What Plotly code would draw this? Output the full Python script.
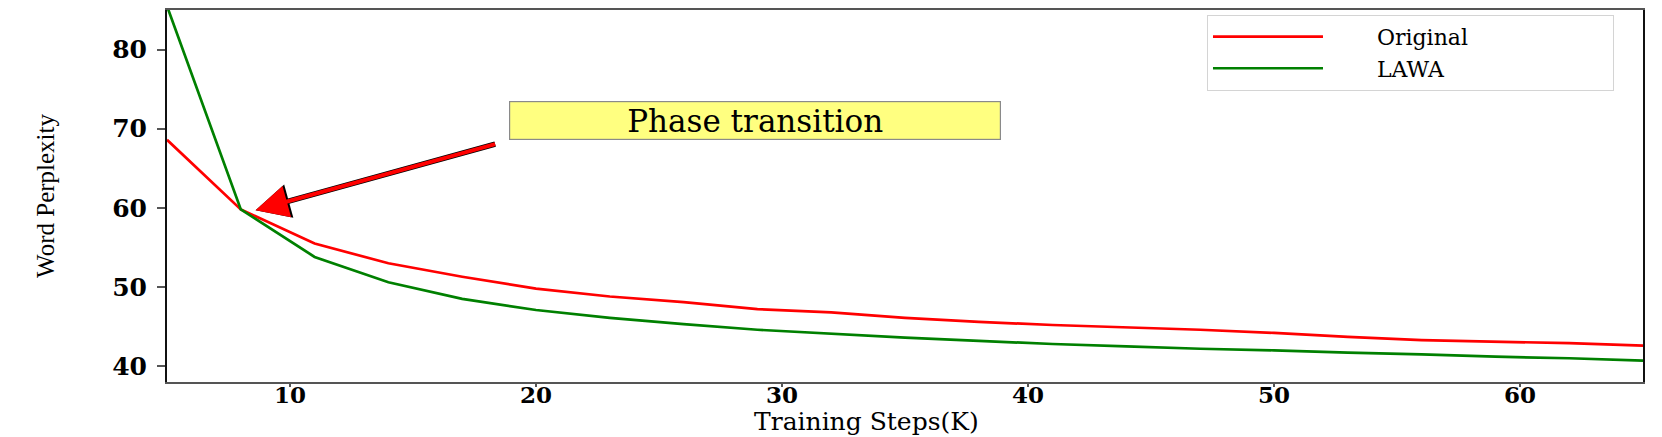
import plotly.graph_objects as go

steps_k = [5, 8, 11, 14, 17, 20, 23, 26, 29, 32, 35, 38, 41, 44, 47, 50, 53, 56, 59, 62, 65]
original = [68.6, 59.8, 55.5, 53.0, 51.3, 49.8, 48.8, 48.1, 47.2, 46.8, 46.1, 45.6, 45.2,
            44.9, 44.6, 44.2, 43.7, 43.3, 43.1, 42.9, 42.6]
lawa = [85.5, 59.8, 53.8, 50.6, 48.5, 47.1, 46.1, 45.3, 44.6, 44.1, 43.6, 43.2, 42.8,
        42.5, 42.2, 42.0, 41.7, 41.5, 41.2, 41.0, 40.7]
x_ticks = [10, 20, 30, 40, 50, 60]
y_ticks = [40, 50, 60, 70, 80]

SERIF = "DejaVu Serif"
LEAD = "\u00a0" * 7
TRAIL_ORIG = "\u00a0" * 20
TRAIL_LAWA = "\u00a0" * 20

fig = go.Figure()
fig.add_trace(go.Scatter(x=steps_k, y=original, mode="lines", name=LEAD + "Original" + TRAIL_ORIG,
                         line=dict(color="#ff0000", width=2.7)))
fig.add_trace(go.Scatter(x=steps_k, y=lawa, mode="lines", name=LEAD + "LAWA" + TRAIL_LAWA,
                         line=dict(color="#008000", width=2.7)))

# the page body has an 8px margin; margins below compensate for it
fig.update_layout(
    width=1662, height=437,
    margin=dict(l=159, r=27, t=0, b=63),
    paper_bgcolor="white", plot_bgcolor="white",
    font=dict(family=SERIF, color="black"),
    showlegend=True,
    legend=dict(x=0.7046, y=0.987, xanchor="left", yanchor="top",
                bgcolor="white", bordercolor="#d4d4d4", borderwidth=1,
                font=dict(family=SERIF, size=22, color="black"),
                itemwidth=110, tracegroupgap=0),
    xaxis=dict(range=[5, 65], tickvals=x_ticks, ticks="outside", ticklen=3,
               tickcolor="#555", tickwidth=1.5, ticklabelstandoff=-11,
               showline=True, linecolor="#555", linewidth=1.5, mirror=True,
               showgrid=False, zeroline=False,
               tickfont=dict(family=SERIF, size=23, color="black", weight="bold")),
    yaxis=dict(range=[38, 85], tickvals=y_ticks, ticks="outside", ticklen=8,
               tickcolor="#555", tickwidth=1.5, ticklabelstandoff=5,
               showline=True, linecolor="#111", linewidth=2, mirror=True,
               showgrid=False, zeroline=False,
               tickfont=dict(family=SERIF, size=25, color="black", weight="bold")),
)

# axis titles
fig.add_annotation(xref="paper", yref="paper", x=0.474, y=-0.105,
                   text="Training Steps(K)", showarrow=False,
                   xanchor="center", yanchor="middle",
                   font=dict(family=SERIF, size=25, color="black"))
fig.add_annotation(xref="paper", yref="paper", x=-0.0827, y=0.5,
                   text="Word Perplexity", showarrow=False, textangle=-90,
                   xanchor="center", yanchor="middle",
                   font=dict(family="Liberation Serif", size=25, color="black"))

# arrow: black outline underneath, red on top
for col, w, s in [("black", 5.6, 1.23), ("#ff0000", 4, 1.62)]:
    fig.add_annotation(x=8.6, y=59.7, xref="x", yref="y",
                       ax=18.4, ay=68.1, axref="x", ayref="y",
                       text="", showarrow=True, arrowhead=2,
                       arrowsize=s, arrowwidth=w, arrowcolor=col)

# callout box
fig.add_annotation(x=28.9, y=71.0, xref="x", yref="y",
                   text="Phase transition", showarrow=False,
                   xanchor="center", yanchor="middle",
                   width=484, height=31,
                   bgcolor="#ffff80", bordercolor="#8a8a8a", borderwidth=1.2, borderpad=3,
                   font=dict(family=SERIF, size=31, color="black"))

fig.write_html("out.html")
